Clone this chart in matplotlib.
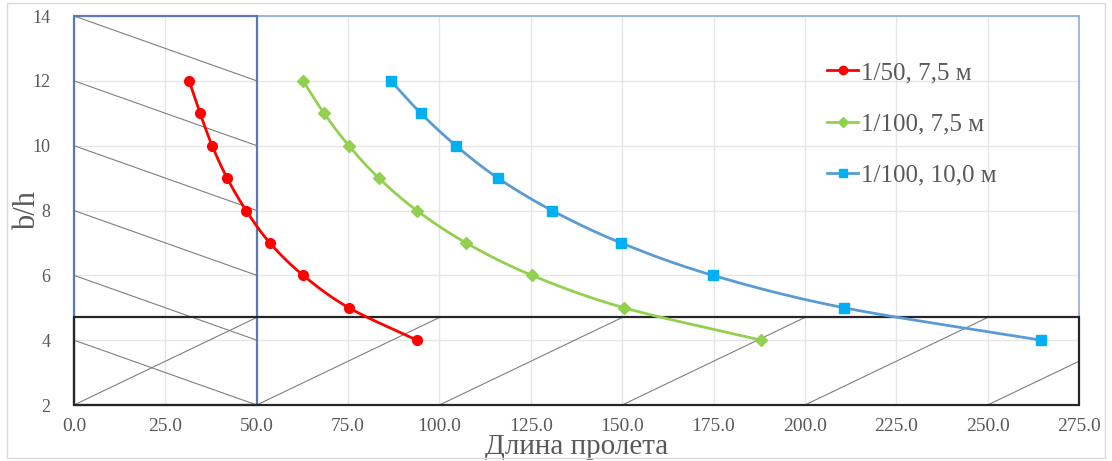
import numpy as np
import matplotlib
matplotlib.use("Agg")
import matplotlib.pyplot as plt
from matplotlib.patches import Rectangle

# ---- data ----
bh = [12, 11, 10, 9, 8, 7, 6, 5, 4]
span_50_75 = [31.5, 34.5, 37.8, 41.9, 47.1, 53.6, 62.7, 75.2, 93.8]
span_100_75 = [62.7, 68.4, 75.2, 83.4, 93.8, 107.3, 125.3, 150.5, 188.0]
span_100_100 = [86.7, 94.9, 104.5, 116.0, 130.8, 149.7, 174.8, 210.7, 264.6]
labels = ["1/50, 7,5 м", "1/100, 7,5 м", "1/100, 10,0 м"]
xticks = [0, 25, 50, 75, 100, 125, 150, 175, 200, 225, 250, 275]
yticks = [2, 4, 6, 8, 10, 12, 14]
zone_left_x = 50
zone_bottom_y = 4.7

plt.rcParams['font.family'] = ['Liberation Serif', 'DejaVu Serif']

fig = plt.figure(figsize=(11.12, 4.61), dpi=100)
ax = fig.add_axes([74/1112, 1-405/461, (1079-74)/1112, (405-16)/461])
ax.set_xlim(0, 275)
ax.set_ylim(2, 14)

# gridlines
ax.set_xticks(xticks)
ax.set_yticks(yticks)
ax.grid(True, color='#E6E6E6', lw=1)
ax.set_axisbelow(True)
for s in ['left', 'bottom']:
    ax.spines[s].set_visible(False)
for s in ['top', 'right']:
    ax.spines[s].set_color('#8FAADC')
    ax.spines[s].set_linewidth(1.2)

gray = '#595959'
ax.tick_params(length=0, colors=gray)
ax.tick_params(axis='x', labelsize=14, pad=9)
ax.tick_params(axis='y', labelsize=13, pad=17)
ax.set_xticklabels([f"{v:.1f}" for v in xticks])
ax.set_yticklabels([str(v) for v in yticks])

# hatched zones
ymin, ymax = 2, 14
for y0 in range(14, 2, -2):
    ax.plot([0, zone_left_x], [y0, y0 - 2], color='#7F7F7F', lw=0.8, zorder=2)
for k in range(6):
    x0 = 50 * k
    ax.plot([x0, x0 + 50], [ymin, zone_bottom_y], color='#7F7F7F', lw=0.8,
            zorder=2, clip_on=True)
ax.add_patch(Rectangle((0, ymin), zone_left_x, ymax - ymin, fill=False,
                       edgecolor='#5B79B5', lw=1.6, zorder=3, clip_on=False))
ax.add_patch(Rectangle((0, ymin), 275, zone_bottom_y - ymin, fill=False,
                       edgecolor='#262626', lw=1.6, zorder=3, clip_on=False))


def smooth(xs, ys, n=20):
    # Catmull-Rom spline in normalized axes space
    xs = np.asarray(xs, float) / 275.0
    ys = (np.asarray(ys, float) - 2) / 12.0
    P = np.column_stack([xs, ys])
    P = np.vstack([2 * P[0] - P[1], P, 2 * P[-1] - P[-2]])
    out = []
    for i in range(1, len(P) - 2):
        p0, p1, p2, p3 = P[i - 1], P[i], P[i + 1], P[i + 2]
        t = np.linspace(0, 1, n, endpoint=False)[:, None]
        seg = 0.5 * ((2 * p1) + (-p0 + p2) * t + (2 * p0 - 5 * p1 + 4 * p2 - p3) * t**2
                     + (-p0 + 3 * p1 - 3 * p2 + p3) * t**3)
        out.append(seg)
    out.append(P[-2][None, :])
    out = np.vstack(out)
    return out[:, 0] * 275.0, out[:, 1] * 12.0 + 2


series = [
    (span_50_75, '#FF0000', '#FF0000', 'o', 7),
    (span_100_75, '#92D050', '#92D050', 'D', 6),
    (span_100_100, '#5B9BD5', '#00B0F0', 's', 6.5),
]
handles = []
for (xs, lc, mc, m, ms), lab in zip(series, labels):
    sx, sy = smooth(xs, bh)
    ax.plot(sx, sy, color=lc, lw=2, zorder=4)
    ax.plot(xs, bh, ls='none', marker=m, color=mc, ms=ms, zorder=5)
    h, = ax.plot([], [], color=lc, lw=2, marker=m, mfc=mc, mec=mc, ms=ms - 1, label=lab)
    handles.append(h)

ax.legend(handles=handles, loc='upper left', bbox_to_anchor=(0.737, 0.915),
          frameon=False, fontsize=18, handlelength=1.25, handletextpad=0.1,
          labelspacing=1.15, borderpad=0, labelcolor=gray)

ax.set_xlabel("Длина пролета", fontsize=21, color=gray, va='center')
ax.xaxis.set_label_coords(0.5, -0.109)
ax.set_ylabel("b/h", fontsize=22, color=gray, va='center')
ax.yaxis.set_label_coords(-0.046, 0.5)

# outer frame
fig.patches.append(Rectangle((7/1112, 3/461), 1098/1112, 455/461,
                             transform=fig.transFigure, fill=False,
                             edgecolor='#D9D9D9', lw=1))

fig.savefig("out.png", dpi=100)
